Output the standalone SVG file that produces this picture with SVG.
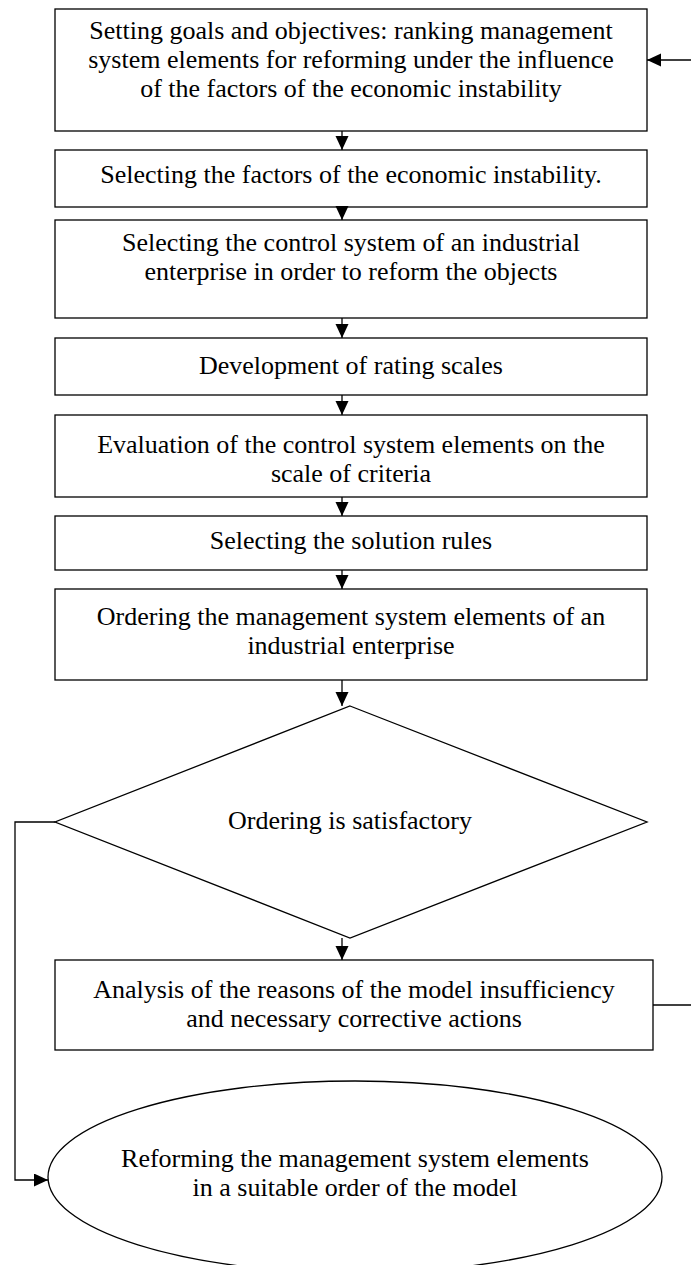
<svg xmlns="http://www.w3.org/2000/svg" width="691" height="1265" viewBox="0 0 691 1265">
<style>
.b{fill:#fff;stroke:#000;stroke-width:1.3}
.t{font-family:"Liberation Serif","Times New Roman",serif;font-size:26px;fill:#000;text-anchor:middle}
.c{fill:none;stroke:#000;stroke-width:1.3}
</style>
<defs>
<marker id="ah" markerUnits="userSpaceOnUse" markerWidth="16" markerHeight="14" refX="14" refY="6.5" orient="auto">
<path d="M0,0 L14,6.5 L0,13 z" fill="#000"/>
</marker>
</defs>
<rect width="691" height="1265" fill="#fff"/>
<g id="n1"><rect class="b" x="55" y="9" width="592" height="122"/>
<text class="t" x="351" y="39">Setting goals and objectives: ranking management</text>
<text class="t" x="351" y="68">system elements for reforming under the influence</text>
<text class="t" x="351" y="97">of the factors of the economic instability</text></g>
<g id="n2"><rect class="b" x="55" y="150" width="592" height="57"/>
<text class="t" x="351" y="183">Selecting the factors of the economic instability.</text></g>
<g id="n3"><rect class="b" x="55" y="220" width="592" height="98"/>
<text class="t" x="351" y="251">Selecting the control system of an industrial</text>
<text class="t" x="351" y="280">enterprise in order to reform the objects</text></g>
<g id="n4"><rect class="b" x="55" y="338" width="592" height="57"/>
<text class="t" x="351" y="374">Development of rating scales</text></g>
<g id="n5"><rect class="b" x="55" y="415" width="592" height="82"/>
<text class="t" x="351" y="453">Evaluation of the control system elements on the</text>
<text class="t" x="351" y="482">scale of criteria</text></g>
<g id="n6"><rect class="b" x="55" y="516" width="592" height="54"/>
<text class="t" x="351" y="549">Selecting the solution rules</text></g>
<g id="n7"><rect class="b" x="55" y="589" width="592" height="91"/>
<text class="t" x="351" y="625">Ordering the management system elements of an</text>
<text class="t" x="351" y="654">industrial enterprise</text></g>
<g id="n8"><polygon class="b" points="350,706 647,822 350,938 55,822"/>
<text class="t" x="350" y="829">Ordering is satisfactory</text></g>
<g id="n9"><rect class="b" x="55" y="960" width="598" height="90"/>
<text class="t" x="354" y="998">Analysis of the reasons of the model insufficiency</text>
<text class="t" x="354" y="1027">and necessary corrective actions</text></g>
<g id="n10"><ellipse class="b" cx="355" cy="1177" rx="307" ry="96"/>
<text class="t" x="355" y="1167">Reforming the management system elements</text>
<text class="t" x="355" y="1196">in a suitable order of the model</text></g>
<g id="connectors">
<line class="c" x1="342" y1="131" x2="342" y2="150" marker-end="url(#ah)"/>
<line class="c" x1="342" y1="207" x2="342" y2="220" marker-end="url(#ah)"/>
<line class="c" x1="342" y1="318" x2="342" y2="338" marker-end="url(#ah)"/>
<line class="c" x1="342" y1="395" x2="342" y2="415" marker-end="url(#ah)"/>
<line class="c" x1="342" y1="497" x2="342" y2="516" marker-end="url(#ah)"/>
<line class="c" x1="342" y1="570" x2="342" y2="589" marker-end="url(#ah)"/>
<line class="c" x1="342" y1="680" x2="342" y2="706" marker-end="url(#ah)"/>
<line class="c" x1="342" y1="938" x2="342" y2="960" marker-end="url(#ah)"/>
<line class="c" x1="691" y1="60" x2="647" y2="60" marker-end="url(#ah)"/>
<line class="c" x1="653" y1="1005" x2="691" y2="1005"/>
<polyline class="c" points="55,822 15,822 15,1180 48,1180" marker-end="url(#ah)"/>
</g>
</svg>
